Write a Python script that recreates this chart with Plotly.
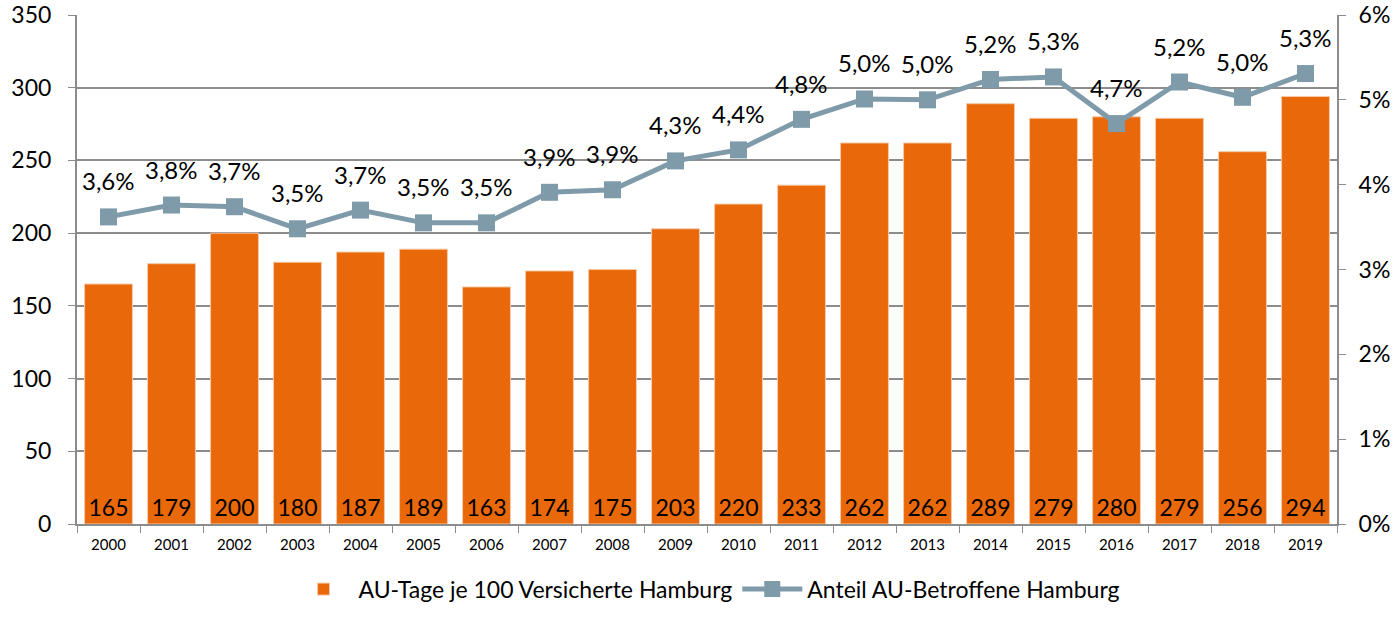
import plotly.graph_objects as go

# Jahre und Werte aus der Vorlage
years = [str(y) for y in range(2000, 2020)]
au_tage = [165, 179, 200, 180, 187, 189, 163, 174, 175, 203,
           220, 233, 262, 262, 289, 279, 280, 279, 256, 294]
anteil = [3.62, 3.76, 3.74, 3.48, 3.70, 3.55, 3.55, 3.91, 3.94, 4.28,
          4.41, 4.77, 5.01, 5.00, 5.24, 5.27, 4.72, 5.21, 5.03, 5.31]

orange = "#E8680A"
grau_blau = "#7F9BAA"
achse = "#8C8C8C"
font_family = "Lato, Open Sans, sans-serif"

fig = go.Figure()

fig.add_trace(go.Bar(
    x=years, y=au_tage,
    name="AU-Tage je 100 Versicherte Hamburg",
    marker=dict(color=orange, line=dict(color="#F6C9A6", width=1)),
    text=au_tage,
    textposition="inside",
    insidetextanchor="start",
    textfont=dict(color="black", size=23),
    textangle=0,
))

fig.add_trace(go.Scatter(
    x=years, y=anteil,
    name="Anteil AU-Betroffene Hamburg",
    yaxis="y2",
    mode="lines+markers",
    line=dict(color=grau_blau, width=5),
    marker=dict(symbol="square", size=17, color=grau_blau),
))

# Prozent-Beschriftungen ueber den Punkten (x als Kategorie-Index)
for i, val in enumerate(anteil):
    fig.add_annotation(
        x=i, y=val, xref="x", yref="y2",
        text=f"{val:.1f}%".replace(".", ","),
        showarrow=False, yanchor="middle", yshift=36,
        font=dict(size=24, color="black"),
    )

fig.update_layout(
    width=1399, height=623,
    margin=dict(l=77, r=62, t=15, b=92),
    plot_bgcolor="white",
    paper_bgcolor="white",
    bargap=0.24,
    font=dict(family=font_family, color="black"),
    legend=dict(orientation="h", x=0.5, xanchor="center", y=-0.128, yanchor="middle",
                font=dict(size=23), itemwidth=60, traceorder="normal"),
    xaxis=dict(
        type="category", range=[-0.5, len(years) - 0.5], automargin=False,
        showline=True, linecolor=achse, linewidth=2,
        ticks="outside", tickson="boundaries", ticklen=7, tickcolor=achse,
        tickfont=dict(size=15), ticklabelstandoff=6, tickangle=0,
    ),
    yaxis=dict(
        automargin=False, ticklabeloverflow="allow",
        range=[0, 350], dtick=50,
        showgrid=True, gridcolor=achse, gridwidth=2,
        showline=True, linecolor=achse, linewidth=2,
        ticks="outside", ticklen=7, tickcolor=achse,
        tickfont=dict(size=23), zeroline=False, ticklabelstandoff=12,
    ),
    yaxis2=dict(
        automargin=False, ticklabeloverflow="allow",
        range=[0, 6], dtick=1, overlaying="y", side="right",
        ticksuffix="%", showgrid=False,
        showline=True, linecolor=achse, linewidth=2,
        ticks="outside", ticklen=7, tickcolor=achse,
        tickfont=dict(size=23), zeroline=False, ticklabelstandoff=8,
    ),
)

# Seitenrand des Browsers entfernen, damit die Grafik bei 0,0 beginnt
fig.write_html("out.html", config={"displayModeBar": False},
               post_script="document.body.style.margin = '0';")
